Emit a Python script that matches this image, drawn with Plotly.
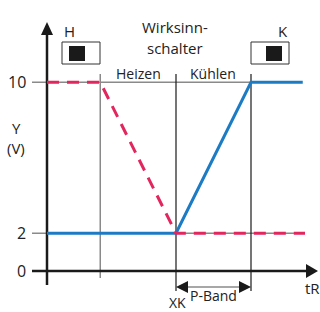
import plotly.graph_objects as go

# ---- data (schematic values) ----
Y_TICKS = [10, 2, 0]
Y_TICK_LABELS = ["10", "2", "0"]
X_AXIS0 = -1.72          # position of the Y axis on tR
X_HEAT = -1.01           # start of heating ramp
X_K = 0.0                # XK
X_PBAND = 1.0            # end of P-band
heat_x = [-1.72, -1.01, 0.0, 1.72]
heat_y = [10, 10, 2, 2]
cool_x = [-1.72, 0.0, 1.0, 1.69]
cool_y = [2, 2, 10, 10]

W, H = 320, 312
PX_X = 75.0      # px per tR unit
PX_Y = 18.875    # px per volt
X0_PX, Y0_PX = 176, 271
XR = [-X0_PX / PX_X, (W - X0_PX) / PX_X]
YR = [-(H - Y0_PX) / PX_Y, Y0_PX / PX_Y]

def dx(px):
    return (px - X0_PX) / PX_X

def dy(py):
    return (Y0_PX - py) / PX_Y

RED = "#E2265E"
BLUE = "#1B7BC4"
GRAY = "#8a8a8a"
BLACK = "#1a1a1a"
FONT = "Open Sans"

fig = go.Figure()
shapes = []
ann = []

def line(x0, y0, x1, y1, color, width):
    shapes.append(dict(type="line", x0=x0, y0=y0, x1=x1, y1=y1, xref="x", yref="y",
                       line=dict(color=color, width=width), layer="below"))

# gray reference lines
line(dx(32), 10, X_PBAND, 10, GRAY, 1.5)
line(dx(32), 2, 1.72, 2, GRAY, 1.5)
line(X_HEAT, dy(74), X_HEAT, dy(278), GRAY, 1.5)
line(X_K, dy(74), X_K, dy(291), BLACK, 1.2)
line(X_PBAND, dy(74), X_PBAND, dy(291), BLACK, 1.2)
# P-band arrow line
line(X_K + 0.12, dy(287), X_PBAND - 0.12, dy(287), GRAY, 1.5)

# axes
line(dx(32), 0, dx(310), 0, BLACK, 2.5)
line(X_AXIS0, dy(285), X_AXIS0, dy(32), BLACK, 2.5)

# arrowheads (paths in data coords)
def tri(pts, color):
    p = "M " + " L ".join(f"{x},{y}" for x, y in pts) + " Z"
    shapes.append(dict(type="path", path=p, xref="x", yref="y",
                       fillcolor=color, line=dict(color=color, width=0)))

tri([(X_AXIS0, dy(22)), (dx(41), dy(35)), (dx(53), dy(35))], BLACK)
tri([(dx(318), 0), (dx(306), dy(264)), (dx(306), dy(278))], BLACK)
tri([(X_K, dy(287)), (X_K + 0.16, dy(281)), (X_K + 0.16, dy(293))], BLACK)
tri([(X_PBAND, dy(287)), (X_PBAND - 0.16, dy(281)), (X_PBAND - 0.16, dy(293))], BLACK)

# switch boxes
def rect(x0, y0, x1, y1, fill, lc, lw):
    shapes.append(dict(type="rect", x0=dx(x0), x1=dx(x1), y0=dy(y0), y1=dy(y1),
                       xref="x", yref="y", fillcolor=fill, line=dict(color=lc, width=lw)))

rect(62, 42, 100, 64, "white", "#333", 1)
rect(69, 46, 85, 61, "#1a1a1a", "#1a1a1a", 0)
rect(251, 42, 289, 64, "white", "#333", 1)
rect(266, 46, 282, 61, "#1a1a1a", "#1a1a1a", 0)

# series
fig.add_trace(go.Scatter(x=cool_x, y=cool_y, mode="lines",
                         line=dict(color=BLUE, width=3), hoverinfo="skip"))
fig.add_trace(go.Scatter(x=heat_x, y=heat_y, mode="lines",
                         line=dict(color=RED, width=3, dash="12px,8px"), hoverinfo="skip"))

def text(t, px, py, size=15, xanchor="center", color="#222"):
    ann.append(dict(text=t, x=dx(px), y=dy(py), xref="x", yref="y", showarrow=False,
                    xanchor=xanchor, yanchor="middle",
                    font=dict(family=FONT, size=size, color=color)))

for v, lab in zip(Y_TICKS, Y_TICK_LABELS):
    ann.append(dict(text=lab, x=dx(28), y=v, xref="x", yref="y", showarrow=False,
                    xanchor="right", yanchor="middle",
                    font=dict(family=FONT, size=16, color="#222")))

text("Y", 16, 128, 15)
text("(V)", 16, 148, 15)
text("H", 69, 31, 15)
text("K", 283, 31, 15)
text("Wirksinn-", 175, 27, 15)
text("schalter", 175, 48, 15)
text("Heizen", 138, 73, 14)
text("Kühlen", 213, 73, 14)
text("XK", 188, 302, 14, xanchor="right")
text("P-Band", 213, 295, 14)
text("tR", 312, 288, 15)

fig.update_layout(
    width=W, height=H, margin=dict(l=0, r=0, t=0, b=0),
    paper_bgcolor="white", plot_bgcolor="white", showlegend=False,
    xaxis=dict(range=XR, visible=False, fixedrange=True),
    yaxis=dict(range=YR, visible=False, fixedrange=True),
    shapes=shapes, annotations=ann,
)
fig.write_html("out.html", config={"displayModeBar": False},
               post_script="document.body.style.margin='0';document.body.style.overflow='hidden';")
